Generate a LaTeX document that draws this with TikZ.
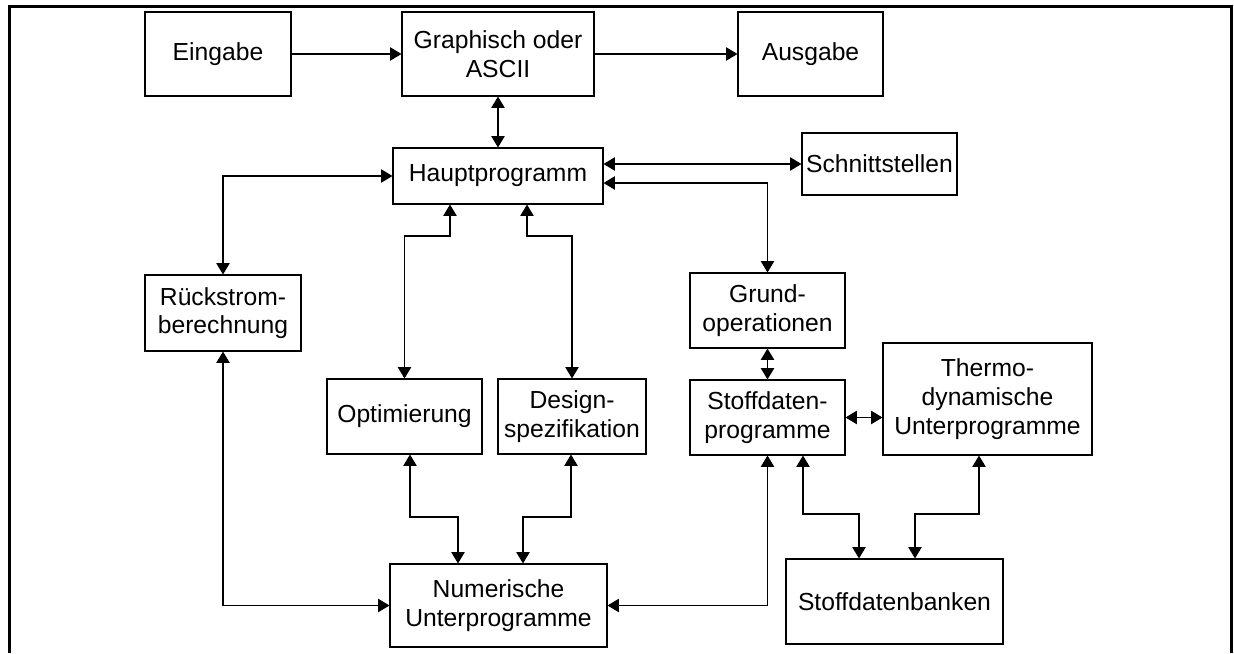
\documentclass[tikz,border=0pt]{standalone}
\usepackage{fontspec}
\setmainfont{Liberation Sans}
\usetikzlibrary{arrows.meta}

\begin{document}
\begin{tikzpicture}
  [x=0.75pt,y=-0.75pt,>={Triangle[length=8.5pt,width=10pt]},line width=0.8pt,
   every node/.style={draw,align=center,inner sep=0pt,font=\fontsize{18.5}{21.5}\selectfont}]
  \useasboundingbox (0,0) rectangle (1234,653);
  \draw[line width=2.25pt] (9,653) -- (9,6.5) -- (1231.5,6.5) -- (1231.5,653);

  \node[minimum width=109.5pt,minimum height=63pt] (eingabe) at (218,54) {Eingabe};
  \node[minimum width=144pt,minimum height=63pt] (graph) at (498,54) {Graphisch oder\\ASCII};
  \node[minimum width=108.75pt,minimum height=63pt] (ausgabe) at (810.5,54) {Ausgabe};
  \node[minimum width=157.5pt,minimum height=42pt] (haupt) at (498,176) {Hauptprogramm};
  \node[minimum width=116.25pt,minimum height=46.5pt] (schnitt) at (879.5,164) {Schnittstellen};
  \node[minimum width=117pt,minimum height=57pt] (rueck) at (223,313) {Rückstrom-\\berechnung};
  \node[minimum width=116.25pt,minimum height=56.25pt] (opt) at (404.5,416.5) {Optimierung};
  \node[minimum width=111pt,minimum height=56.25pt] (design) at (572,416.5) {Design-\\spezifikation};
  \node[minimum width=116.25pt,minimum height=56.25pt] (grund) at (767.5,310.5) {Grund-\\operationen};
  \node[minimum width=116.25pt,minimum height=56.25pt] (stoffprog) at (767.5,417.5) {Stoffdaten-\\programme};
  \node[minimum width=156.75pt,minimum height=84pt] (thermo) at (987.5,399) {Thermo-\\dynamische\\Unterprogramme};
  \node[minimum width=162.75pt,minimum height=63.75pt] (banken) at (894.5,601.5) {Stoffdatenbanken};
  \node[minimum width=162.75pt,minimum height=62.25pt] (numerisch) at (498.5,605.5) {Numerische\\Unterprogramme};

  \coordinate (g1) at (700,183);
  \coordinate (b1) at (450,236);
  \coordinate (b2) at (527,236);
  \coordinate (b3) at (410,517);
  \coordinate (b4) at (458,517);
  \coordinate (b5) at (571,517);
  \coordinate (b6) at (523,517);
  \coordinate (b7) at (803,514);
  \coordinate (b8) at (859,514);
  \coordinate (b9) at (979,514);
  \coordinate (b10) at (915,514);

  \draw[->] (eingabe) -- (graph);
  \draw[->] (graph) -- (ausgabe);
  \foreach \from/\to in {graph/haupt,grund/stoffprog}
    \draw[<->] (\from) -- (\to);
  \draw[<->] (schnitt.west -| haupt.east) -- (schnitt.west);
  \draw[<->] (stoffprog.east) -- (stoffprog.east -| thermo.west);
  \draw[<->] (haupt.east |- g1) -| (grund.north);
  \draw[<->] (haupt.west) -| (rueck.north);
  \draw[<->] (rueck.south) |- (numerisch.west);
  \draw[<->] (stoffprog.south) |- (numerisch.east);
  \draw[<->] (haupt.south -| b1) -- (b1) -| (opt.north);
  \draw[<->] (haupt.south -| b2) -- (b2) -| (design.north);
  \foreach \a/\b/\c/\d in {opt/b3/b4/numerisch,design/b5/b6/numerisch,
  stoffprog/b7/b8/banken,thermo/b9/b10/banken}
    \draw[<->] (\a.south -| \b) -- (\b) -- (\c) -- (\d.north -| \c);
\end{tikzpicture}
\end{document}
